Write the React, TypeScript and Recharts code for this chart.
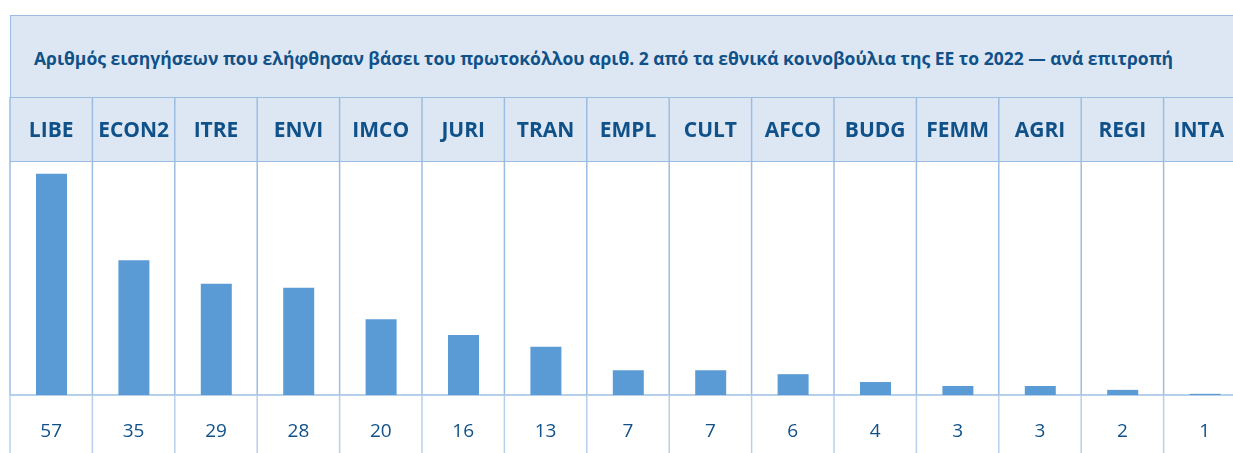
import { Bar, BarChart, XAxis, YAxis } from 'recharts'

const title =
  'Αριθμός εισηγήσεων που ελήφθησαν βάσει του πρωτοκόλλου αριθ. 2 από τα εθνικά κοινοβούλια της ΕΕ το 2022 — ανά επιτροπή'

const committees = ['LIBE', 'ECON2', 'ITRE', 'ENVI', 'IMCO', 'JURI', 'TRAN', 'EMPL', 'CULT', 'AFCO', 'BUDG', 'FEMM', 'AGRI', 'REGI', 'INTA']
const reports = [57, 35, 29, 28, 20, 16, 13, 7, 7, 6, 4, 3, 3, 2, 1]

const data = committees.map((c, i) => ({ committee: c, reports: reports[i] }))

const W = 1240
const H = 470
const LEFT = 2
const TITLE_TOP = 7
const HEADER_TOP = 89
const PLOT_TOP = 154
const PLOT_BOTTOM = 387
const COL = (W - 2 * LEFT) / committees.length

const TEXT = '#0f5188'
const BAND = '#dde7f4'
const LINE = '#9bbde2'
const LINE_LIGHT = '#b7d0ea'
const BAR = '#5b9bd5'
const FONT = '"Open Sans", "Noto Sans", sans-serif'

function HeaderTick({ x, payload, index }: any) {
  const left = x - COL / 2
  // the last label sits a little left of its column centre in the original
  const tx = index === committees.length - 1 ? x - 6 : x
  return (
    <g>
      <line x1={left} x2={left} y1={HEADER_TOP} y2={PLOT_BOTTOM} stroke={LINE} strokeWidth={1.5} />
      <text
        x={tx}
        y={(HEADER_TOP + PLOT_TOP) / 2 + 7.5}
        textAnchor="middle"
        fill={TEXT}
        fontFamily={FONT}
        fontWeight={700}
        fontSize={21}
      >
        {payload.value}
      </text>
    </g>
  )
}

function ValueTick({ x, index }: any) {
  const left = x - COL / 2
  return (
    <g>
      <line x1={left} x2={left} y1={PLOT_BOTTOM} y2={H} stroke={LINE_LIGHT} strokeWidth={1.5} />
      <text x={x} y={PLOT_BOTTOM + 42} textAnchor="middle" fill={TEXT} fontFamily={FONT} fontSize={19}>
        {reports[index]}
      </text>
    </g>
  )
}

export default function App() {
  return (
    <div
      style={{
        position: 'fixed',
        left: 8,
        top: 8,
        width: W,
        height: 445,
        overflow: 'hidden',
        fontFamily: FONT,
      }}
    >
      <style>{'html,body{overflow:hidden}'}</style>
      <div
        style={{
          position: 'absolute',
          left: LEFT,
          top: TITLE_TOP,
          width: W - 2 * LEFT,
          height: HEADER_TOP - TITLE_TOP,
          background: BAND,
          borderTop: `1px solid ${LINE}`,
          borderLeft: `1.5px solid ${LINE}`,
          boxSizing: 'border-box',
          display: 'flex',
          alignItems: 'center',
          paddingLeft: 23,
          paddingTop: 2,
          color: TEXT,
          fontWeight: 700,
          fontSize: 17.5,
          whiteSpace: 'nowrap',
        }}
      >
        {title}
      </div>
      <div
        style={{
          position: 'absolute',
          left: LEFT,
          top: HEADER_TOP,
          width: W - 2 * LEFT,
          height: PLOT_TOP - HEADER_TOP,
          background: BAND,
          borderTop: `1.5px solid ${LINE}`,
          borderBottom: `1.5px solid ${LINE}`,
          boxSizing: 'border-box',
        }}
      />
      <div
        style={{
          position: 'absolute',
          left: LEFT,
          top: PLOT_BOTTOM - 1,
          width: W - 2 * LEFT,
          height: 2,
          background: LINE_LIGHT,
        }}
      />
      <div style={{ position: 'absolute', left: 0, top: 0 }}>
        <BarChart
          width={W}
          height={H}
          data={data}
          margin={{ top: HEADER_TOP, right: LEFT, bottom: 23, left: LEFT }}
          barCategoryGap={0}
        >
          <XAxis
            xAxisId="head"
            dataKey="committee"
            orientation="top"
            height={PLOT_TOP - HEADER_TOP}
            axisLine={false}
            tickLine={false}
            interval={0}
            tick={<HeaderTick />}
          />
          <XAxis
            xAxisId="foot"
            dataKey="committee"
            orientation="bottom"
            height={H - 23 - PLOT_BOTTOM}
            axisLine={false}
            tickLine={false}
            interval={0}
            tick={<ValueTick />}
          />
          <YAxis hide domain={[0.7, 60]} />
          <Bar xAxisId="head" dataKey="reports" fill={BAR} barSize={31} isAnimationActive={false} />
        </BarChart>
      </div>
    </div>
  )
}
